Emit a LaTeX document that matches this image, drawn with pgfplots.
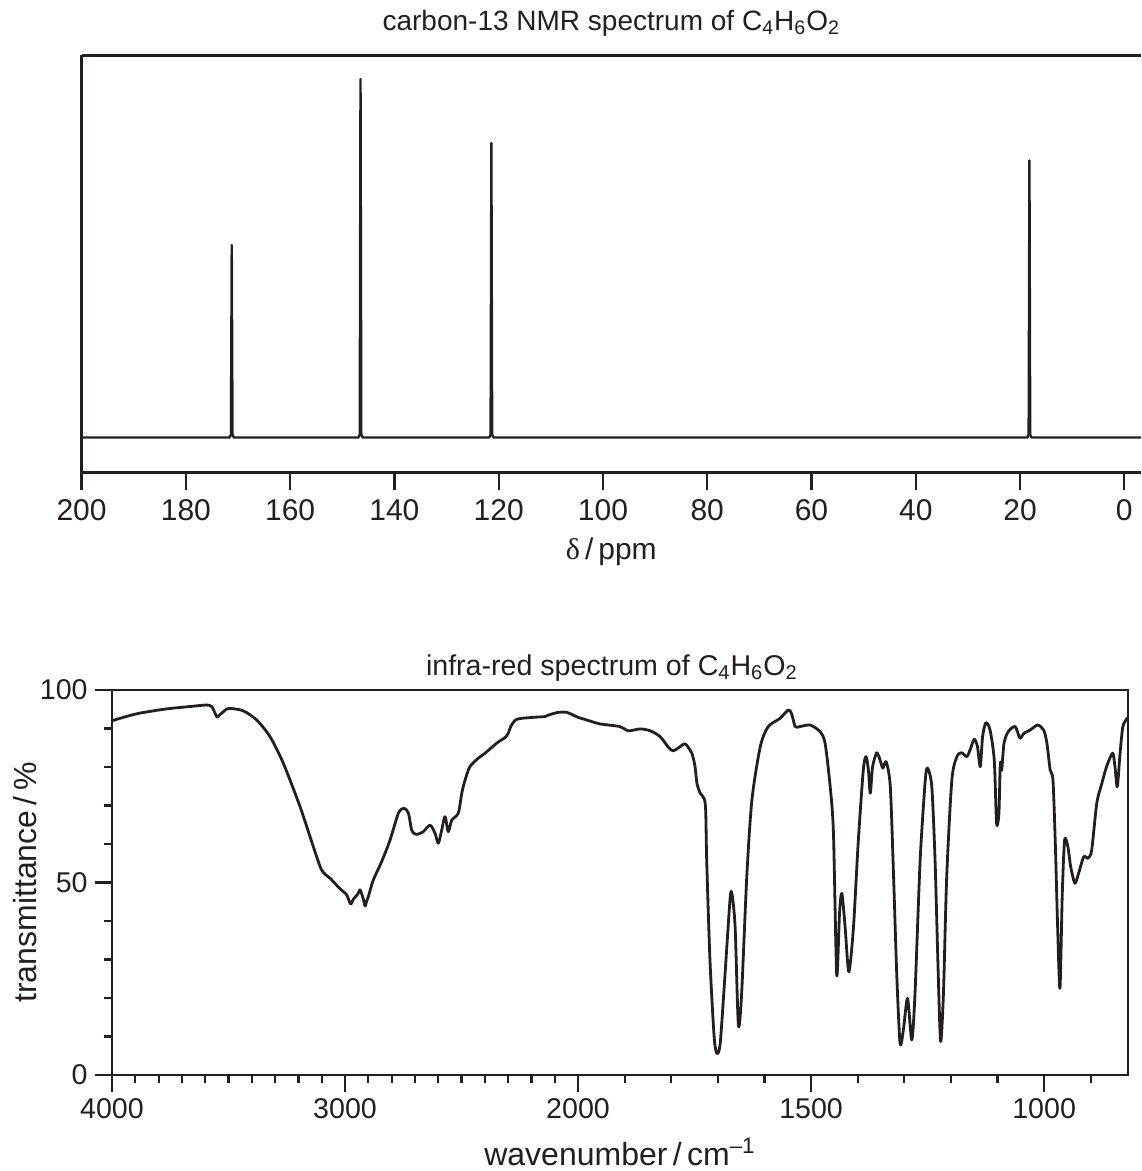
\documentclass[border=0pt]{standalone}
\usepackage{fontspec}
\setmainfont{Liberation Sans}
\newfontfamily\greekfont{Liberation Serif}
\usepackage{pgfplots}
\pgfplotsset{compat=1.18}
\definecolor{ink}{RGB}{35,31,32}

\pgfplotsset{
  spec/.style={
    scale only axis,
    tick align=outside,
    axis line style={ink, line width=1.1pt},
    tick style={ink, line width=1.1pt},
    /pgf/number format/assume math mode=true,
    every tick label/.append style={inner sep=0pt, text=ink},
    label style={text=ink},
    title style={text=ink},
  },
}

\begin{document}
\begin{tikzpicture}[x=1pt, y=1pt, font=\fontsize{14.3}{17}\selectfont]
\path[use as bounding box] (0,0) rectangle (570.5,-585.5);

% carbon-13 NMR
\begin{axis}[spec,
  at={(40.8pt,-236.25pt)}, anchor=south west,
  width=529.7pt, height=208.5pt,
  xmin=-3.2, xmax=200, x dir=reverse,
  ymin=-35, ymax=382,
  axis x line*=box, axis y line*=left,
  xtick={0,20,...,200}, xtick pos=bottom, ytick=\empty,
  major tick length=8.5pt,
  xticklabel style={anchor=base, yshift=-15.25pt, font=\fontsize{15}{18}\selectfont},
  xlabel={{\greekfont δ}\,/\,ppm},
  xlabel style={at={(axis description cs:0.5,-0.2098)}, anchor=base, font=\fontsize{15}{18}\selectfont},
  title={carbon-13 NMR spectrum of C\textsubscript{4}H\textsubscript{6}O\textsubscript{2}},
  title style={at={(axis description cs:0.5,1)}, anchor=base, yshift=6.5pt, font=\fontsize{14}{17}\selectfont},
]
\addplot[ink, line width=1.2pt, line join=round] coordinates {
  (200,0) (171.6,0) (171.35,3) (171.2,192.5) (171.05,3) (170.8,0)
  (146.9,0) (146.65,3) (146.5,358.5) (146.35,3) (146.1,0)
  (121.8,0) (121.55,3) (121.4,294.5) (121.25,3) (121.0,0)
  (18.6,0) (18.35,3) (18.2,277) (18.05,3) (17.8,0)
  (-3.2,0)
};
\end{axis}

% infra-red
\begin{axis}[spec,
  at={(56pt,-537.5pt)}, anchor=south west,
  width=508pt, height=192.5pt,
  x coord trafo/.code={\pgfmathparse{#1>=2000 ? 4000-#1 : 6000-2*#1}},
  xmin=4000, xmax=820, ymin=0, ymax=100,
  scaled x ticks=false,
  xtick={4000,3000,2000,1500,1000},
  xticklabels={4000,3000,2000,1500,1000},
  minor xtick={3900,3800,3700,3600,3500,3400,3300,3200,3100,2900,2800,2700,2600,2500,2400,2300,2200,2100,1900,1800,1700,1600,1400,1300,1200,1100,900},
  ytick={0,50,100}, minor ytick={10,20,30,40,60,70,80,90},
  xtick pos=bottom, ytick pos=left,
  major tick length=8.5pt, minor tick length=4pt,
  xticklabel style={anchor=base, yshift=-13pt},
  yticklabel style={anchor=east, xshift=-3.5pt},
  xlabel={wavenumber\,/\,cm\textsuperscript{–1}},
  xlabel style={at={(axis description cs:0.5,-0.236)}, anchor=base, font=\fontsize{16}{19}\selectfont},
  ylabel={transmittance\,/\,\%},
  ylabel style={at={(axis description cs:-0.0748,0.5)}, anchor=base, font=\fontsize{16}{19}\selectfont},
  title={infra-red spectrum of C\textsubscript{4}H\textsubscript{6}O\textsubscript{2}},
  title style={at={(axis description cs:0.492,1)}, anchor=base, yshift=1.5pt, font=\fontsize{14.3}{17}\selectfont},
]
\addplot[ink, line width=1.4pt, line join=round, smooth, tension=0.45] coordinates {
  (4000,92.0) (3940,93.1) (3880,94.0) (3765,95.1) (3650,95.8) (3594,96.1)
  (3572,95.7) (3555,93.6) (3548,92.9) (3540,93.4) (3529,94.0) (3500,95.2)
  (3437,94.6) (3379,92.2) (3322,87.9) (3265,81.0) (3193,69.7) (3136,59.3)
  (3100,53.2) (3064,51.1) (3050,50.2) (3020,48.3) (2993,46.8) (2976,44.4)
  (2965,45.6) (2957,46.2) (2945,47.0) (2936,48.1) (2928,47.0) (2921,45.6)
  (2914,43.9) (2907,45.2) (2900,46.3) (2879,50.6) (2843,55.4) (2807,61.0)
  (2771,68.0) (2747,69.3) (2728,68.0) (2714,63.6) (2700,62.6) (2690,62.5)
  (2664,63.2) (2635,64.9) (2614,62.8) (2600,60.2) (2588,62.8) (2571,67.1)
  (2557,63.2) (2542,66.2) (2514,68.0) (2499,73.2) (2485,76.6) (2464,80.1)
  (2428,82.3) (2399,83.6) (2349,86.2) (2310,87.8) (2299,88.8) (2289,90.5)
  (2263,92.4) (2192,92.9) (2142,93.1) (2127,93.5) (2084,94.2) (2049,94.2)
  (2021,93.5) (2000,92.9) (1981,92.2) (1953,91.2) (1910,90.5) (1892,89.4)
  (1867,89.9) (1845,89.4) (1824,87.9) (1806,85.1) (1796,84.2) (1782,85.2)
  (1770,86.0) (1756,83.6) (1749,80.1) (1745,75.8) (1738,73.2) (1727,70.4)
  (1724,55.8) (1717,29.9) (1708,9.9) (1702,5.6) (1695,8.2) (1685,25.5)
  (1674,45.5) (1670,47.2) (1663,38.5) (1656,13.0) (1649,21.2) (1638,51.5)
  (1627,71.4) (1609,85.3) (1592,90.5) (1567,92.6) (1549,94.8) (1542,93.9)
  (1534,90.5) (1524,90.5) (1502,90.9) (1481,89.2) (1470,86.2) (1459,74.9)
  (1452,62.8) (1445,26.0) (1439,42.0) (1434,47.2) (1427,38.5) (1419,26.8)
  (1409,38.5) (1399,60.2) (1388,79.2) (1382,82.7) (1377,79.2) (1373,73.2)
  (1368,80.1) (1359,83.7) (1352,81.8) (1346,79.7) (1339,81.4) (1330,74.9)
  (1323,51.5) (1316,25.5) (1309,8.2) (1302,11.7) (1293,19.9) (1284,9.1)
  (1277,21.2) (1266,55.8) (1255,76.6) (1250,79.7) (1241,74.9) (1234,55.8)
  (1227,25.5) (1222,8.7) (1216,21.2) (1209,51.5) (1198,76.6) (1187,82.7)
  (1177,83.7) (1166,82.7) (1159,84.4) (1150,87.2) (1143,85.3) (1137,80.1)
  (1132,87.9) (1125,91.5) (1116,89.6) (1107,81.8) (1102,65.4) (1097,68.0)
  (1094,81.0) (1091,79.2) (1086,86.2) (1077,89.2) (1062,90.5) (1052,87.5)
  (1043,88.8) (1030,89.6) (1014,90.9) (1001,89.6) (994,86.2) (987,79.2)
  (981,76.6) (976,60.2) (971,38.5) (966,22.5) (961,47.2) (956,61.0)
  (949,59.3) (943,54.1) (934,49.8) (926,52.4) (915,56.7) (906,56.3)
  (898,58.4) (887,70.6) (876,75.8) (866,80.1) (853,83.6) (848,80.1)
  (843,74.9) (837,83.6) (831,90.5) (822,92.6) (820,92.8)
};
\end{axis}
\end{tikzpicture}
\end{document}
